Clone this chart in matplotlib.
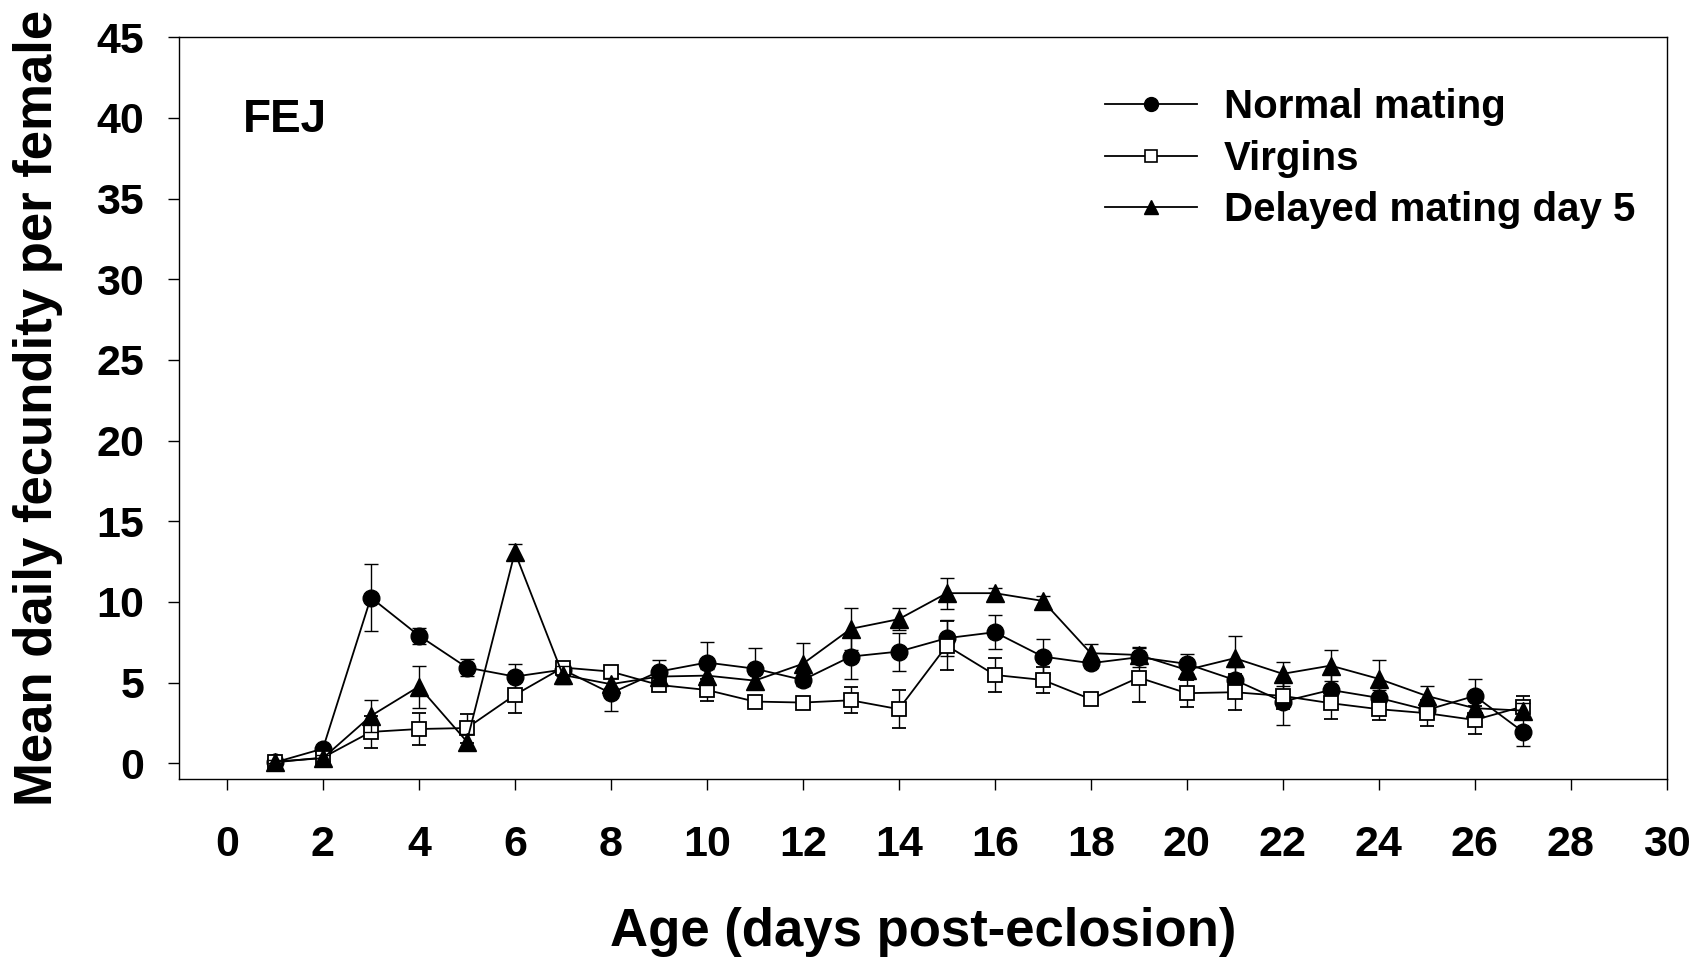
import matplotlib
matplotlib.use("Agg")
import matplotlib.pyplot as plt
from matplotlib.lines import Line2D

plt.rcParams['font.family'] = ['Liberation Sans', 'DejaVu Sans']
plt.rcParams['font.weight'] = 'bold'

# Age in days post-eclosion
days = list(range(1, 28))

# Mean daily fecundity per female (eggs/day) and standard errors
normal_mean = [0.05, 0.9, 10.27, 7.91, 5.93, 5.37, 5.8, 4.34, 5.68, 6.24,
               5.86, 5.16, 6.61, 6.92, 7.75, 8.12, 6.61, 6.20, 6.57, 6.16,
               5.16, 3.82, 4.54, 4.05, 3.3, 4.17, 1.96]
normal_se = [0.1, 0.2, 2.07, 0.5, 0.5, 0.8, 0.4, 1.1, 0.7, 1.26,
             1.26, 0.4, 1.36, 1.18, 1.1, 1.05, 1.1, 0.3, 0.6, 0.62,
             0.8, 1.45, 1.1, 0.5, 0.5, 1.06, 0.89]

virgin_mean = [0.05, 0.35, 1.94, 2.12, 2.18, 4.23, 5.93, 5.68, 4.85, 4.54,
               3.82, 3.76, 3.90, 3.35, 7.29, 5.47, 5.16, 3.97, 5.31, 4.34,
               4.40, 4.17, 3.72, 3.35, 3.10, 2.68, 3.51]
virgin_se = [0.1, 0.2, 1.0, 1.0, 0.9, 1.1, 0.3, 0.3, 0.4, 0.7,
             0.3, 0.3, 0.8, 1.17, 1.5, 1.07, 0.8, 0.2, 1.5, 0.83,
             1.1, 0.8, 0.95, 0.65, 0.8, 0.87, 0.68]

delayed_mean = [0.1, 0.31, 2.93, 4.75, 1.34, 13.08, 5.47, 4.9, 5.37, 5.43,
                5.12, 6.16, 8.33, 8.93, 10.54, 10.54, 10.06, 6.82, 6.71, 5.78,
                6.51, 5.54, 6.05, 5.23, 4.17, 3.41, 3.26]
delayed_se = [0.1, 0.2, 1.0, 1.3, 0.5, 0.5, 0.55, 0.4, 0.4, 0.4,
              0.4, 1.3, 1.3, 0.7, 0.97, 0.3, 0.3, 0.58, 0.5, 0.57,
              1.36, 0.76, 0.97, 1.17, 0.64, 0.5, 0.5]

series_labels = ["Normal mating", "Virgins", "Delayed mating day 5"]
x_ticks = list(range(0, 31, 2))
y_ticks = list(range(0, 46, 5))

fig = plt.figure(figsize=(17.04, 9.58), dpi=100)
ax = fig.add_axes([0.1050, 0.1865, 0.9781 - 0.1050, 0.9611 - 0.1865])

common = dict(color='black', ecolor='black', elinewidth=1.0, capsize=4.7,
              capthick=1.0, linewidth=1.3)
ax.errorbar(days, normal_mean, yerr=normal_se, marker='o', markersize=12,
            markerfacecolor='black', markeredgecolor='black', zorder=3, **common)
ax.errorbar(days, virgin_mean, yerr=virgin_se, marker='s', markersize=10.5,
            markerfacecolor='white', markeredgecolor='black', markeredgewidth=1.3,
            zorder=4, **common)
ax.errorbar(days, delayed_mean, yerr=delayed_se, marker='^', markersize=12.5,
            markerfacecolor='black', markeredgecolor='black', zorder=5, **common)

ax.set_xlim(-1, 30)
ax.set_ylim(-1, 45)
ax.set_xticks(x_ticks)
ax.set_yticks(y_ticks)
ax.tick_params(axis='both', direction='out', length=8, width=1.0,
               labelsize=31)
ax.tick_params(axis='x', pad=25)
ax.tick_params(axis='y', pad=17)
for lab in ax.get_xticklabels() + ax.get_yticklabels():
    lab.set_fontweight('bold')
for sp in ax.spines.values():
    sp.set_linewidth(1.0)

ax.set_xlabel("Age (days post-eclosion)", fontsize=38, fontweight='bold',
              labelpad=30)
ax.set_ylabel("Mean daily fecundity per female", fontsize=38,
              fontweight='bold', labelpad=24)

ax.text(0.34, 39.14, "FEJ", fontsize=33, fontweight='bold',
        ha='left', va='baseline')

handles = [
    Line2D([], [], color='black', linewidth=1.3, marker='o', markersize=10,
           markerfacecolor='black'),
    Line2D([], [], color='black', linewidth=1.3, marker='s', markersize=9,
           markerfacecolor='white', markeredgewidth=1.2),
    Line2D([], [], color='black', linewidth=1.3, marker='^', markersize=10,
           markerfacecolor='black'),
]
leg = fig.legend(handles, series_labels, loc='upper left',
                 bbox_to_anchor=(1105 / 1704, 1 - 88 / 958),
                 frameon=False, handlelength=2.28,
                 handletextpad=0.67, labelspacing=0.34, borderpad=0,
                 borderaxespad=0, prop={'weight': 'bold', 'size': 29})

fig.savefig("out.png", dpi=100)
